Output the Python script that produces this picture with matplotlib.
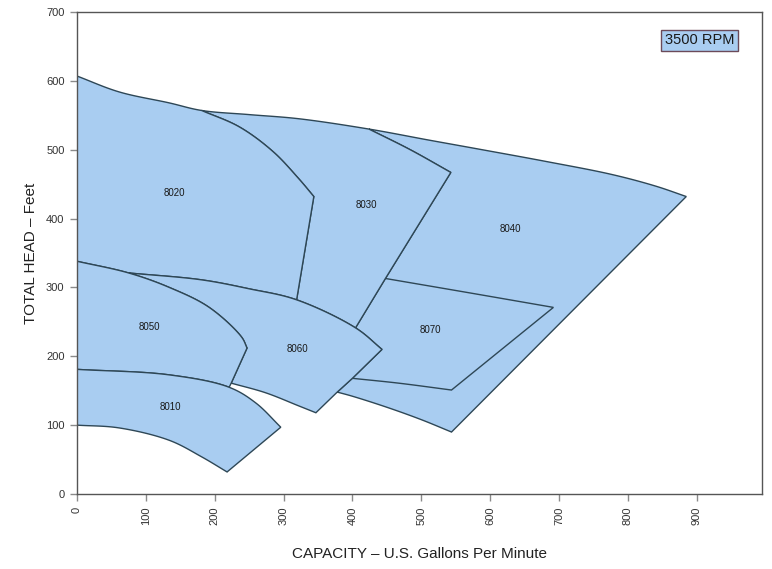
import matplotlib
matplotlib.use("Agg")
import matplotlib.pyplot as plt
from matplotlib.patches import Polygon
import numpy as np

plt.rcParams['font.family'] = ['Liberation Sans', 'DejaVu Sans']

# ---- Pump coverage boundaries (capacity GPM, total head ft) ----
# outer top envelope across 8020, 8030 and 8040
envelope = [(0, 607), (61, 584), (134, 568), (181, 557), (250, 551), (322, 545),
            (424, 530), (511, 514), (583, 501), (681, 483), (777, 464),
            (841, 447), (885, 432)]

# 8020 right boundary: curve then straight drop onto the 8060 top
m8020_curve = [(181, 557), (236, 533), (285, 497), (322, 458), (344, 432)]
m8020_drop = [(344, 432), (319, 282)]

# 8030 own top and right boundary line
m8030_top = [(424, 530), (484, 500), (543, 467)]
m8030_line = [(543, 467), (448, 313), (405, 242)]

# 8040 right line and bottom curve
m8040_right = [(885, 432), (544, 90)]
m8040_bottom = [(544, 90), (500, 108), (450, 126), (400, 142), (378, 148)]

# 8060 boundaries
m8060_top = [(75, 321), (181, 311), (250, 298), (319, 282), (405, 241), (443, 210)]
m8060_right = [(443, 210), (400, 168), (378, 148), (347, 118)]
m8060_bottom = [(347, 118), (322, 128), (274, 147), (224, 161)]

# 8050 boundaries
m8050_top = [(0, 338), (75, 321), (134, 300), (192, 271), (239, 228), (247, 212)]
m8050_right = [(247, 212), (224, 161), (221, 155)]

# 8010 boundaries
m8010_top = [(0, 181), (134, 173), (221, 155), (260, 132), (296, 97)]
m8010_right = [(296, 97), (218, 32)]
m8010_bottom = [(218, 32), (181, 54), (134, 78), (61, 96), (0, 100)]

# 8070 boundaries
m8070_top = [(448, 313), (565, 293), (692, 271)]
m8070_right = [(692, 271), (544, 151)]
m8070_bottom = [(544, 151), (467, 161), (400, 168)]

model_labels = ['8020', '8030', '8040', '8050', '8060', '8070', '8010']
label_pos = [(141, 437), (420, 420), (630, 385), (105, 243), (320, 210),
             (514, 238), (135, 126)]

x_ticks = [0, 100, 200, 300, 400, 500, 600, 700, 800, 900]
y_ticks = [0, 100, 200, 300, 400, 500, 600, 700]


def smooth(seg, n=16, alpha=0.5):
    """Centripetal Catmull-Rom curve through the vertices (vertices kept exactly)."""
    p = [np.array(v, dtype=float) for v in seg]
    if len(p) < 3:
        return list(seg)
    ext = [2 * p[0] - p[1]] + p + [2 * p[-1] - p[-2]]
    out = []
    for i in range(1, len(ext) - 2):
        p0, p1, p2, p3 = ext[i - 1], ext[i], ext[i + 1], ext[i + 2]
        t0 = 0.0
        t1 = t0 + np.linalg.norm(p1 - p0) ** alpha
        t2 = t1 + np.linalg.norm(p2 - p1) ** alpha
        t3 = t2 + np.linalg.norm(p3 - p2) ** alpha
        out.append(seg[i - 1])
        for t in np.linspace(t1, t2, n + 1)[1:-1]:
            a1 = (t1 - t) / (t1 - t0) * p0 + (t - t0) / (t1 - t0) * p1
            a2 = (t2 - t) / (t2 - t1) * p1 + (t - t1) / (t2 - t1) * p2
            a3 = (t3 - t) / (t3 - t2) * p2 + (t - t2) / (t3 - t2) * p3
            b1 = (t2 - t) / (t2 - t0) * a1 + (t - t0) / (t2 - t0) * a2
            b2 = (t3 - t) / (t3 - t1) * a2 + (t - t1) / (t3 - t1) * a3
            c = (t2 - t) / (t2 - t1) * b1 + (t - t1) / (t2 - t1) * b2
            out.append((float(c[0]), float(c[1])))
    out.append(seg[-1])
    return out


env_s = smooth(envelope)
c8020 = smooth(m8020_curve)
t8030 = smooth(m8030_top)
b8040 = smooth(m8040_bottom)
t8060 = smooth(m8060_top)
b8060 = smooth(m8060_bottom)
t8050 = smooth(m8050_top)
t8010 = smooth(m8010_top)
b8010 = smooth(m8010_bottom)
t8070 = smooth(m8070_top)
b8070 = smooth(m8070_bottom)


def rev(seg):
    return seg[::-1]


def between(seg, a, b):
    """Portion of a polyline from vertex a to vertex b (inclusive)."""
    i, j = seg.index(a), seg.index(b)
    if i <= j:
        return seg[i:j + 1]
    return seg[j:i + 1][::-1]


def chain(*segs):
    pts = []
    for s in segs:
        for p in s:
            if not pts or tuple(pts[-1]) != tuple(p):
                pts.append(p)
    if tuple(pts[0]) == tuple(pts[-1]):
        pts = pts[:-1]
    return np.array(pts, dtype=float)


regions = {
    '8020': chain(between(env_s, (0, 607), (181, 557)), c8020, m8020_drop,
                  rev(between(t8060, (75, 321), (319, 282))),
                  rev(between(t8050, (0, 338), (75, 321)))),
    '8030': chain(between(env_s, (181, 557), (424, 530)), t8030, m8030_line,
                  rev(between(t8060, (319, 282), (405, 241))),
                  rev(m8020_drop), rev(c8020)),
    '8040': chain(between(env_s, (424, 530), (885, 432)), m8040_right, b8040,
                  rev(between(m8060_right, (443, 210), (378, 148))),
                  rev(between(t8060, (405, 241), (443, 210))),
                  rev(m8030_line), rev(t8030)),
    '8070': chain(t8070, m8070_right, b8070,
                  rev(between(m8060_right, (443, 210), (400, 168))),
                  rev(between(t8060, (405, 241), (443, 210))),
                  between(m8030_line, (405, 242), (448, 313))),
    '8060': chain(t8060, m8060_right, b8060,
                  rev(between(m8050_right, (247, 212), (224, 161))),
                  rev(between(t8050, (75, 321), (247, 212)))),
    '8050': chain(t8050, m8050_right,
                  rev(between(t8010, (0, 181), (221, 155)))),
    '8010': chain(t8010, m8010_right, b8010),
}

fill_color = '#A9CDF1'
edge_color = '#2E4756'

fig = plt.figure(figsize=(7.72, 5.69), dpi=100)
ax = fig.add_axes([77 / 772, 1 - 494 / 569, (762 - 77) / 772, (494 - 12) / 569])

for name in ['8040', '8070', '8030', '8020', '8060', '8050', '8010']:
    ax.add_patch(Polygon(regions[name], closed=True, facecolor=fill_color,
                         edgecolor=edge_color, linewidth=1.0, joinstyle='miter'))

for lab, (x, y) in zip(model_labels, label_pos):
    ax.text(x, y, lab, fontsize=7, ha='center', va='center', color='#1a1a1a')

ax.set_xlim(0, 995)
ax.set_ylim(0, 700)
ax.set_xticks(x_ticks)
ax.set_yticks(y_ticks)
ax.set_xticklabels([str(t) for t in x_ticks], rotation=90)
ax.tick_params(axis='both', direction='out', length=5, width=1, color='#8a8a8a',
               labelsize=8, labelcolor='#333333', pad=4)

for s in ax.spines.values():
    s.set_color('#555555')
    s.set_linewidth(1.0)

ax.set_xlabel('CAPACITY – U.S. Gallons Per Minute', fontsize=11, color='#222222',
              labelpad=16)
ax.set_ylabel('TOTAL HEAD – Feet', fontsize=11, color='#222222', labelpad=6)

ax.text(0.909, 0.941, '3500 RPM', transform=ax.transAxes, ha='center', va='center',
        fontsize=10.5, color='#1a1a1a',
        bbox=dict(boxstyle='square,pad=0.25', facecolor=fill_color,
                  edgecolor='#6b4a5a', linewidth=1.0))

fig.savefig('out.png', dpi=100)
